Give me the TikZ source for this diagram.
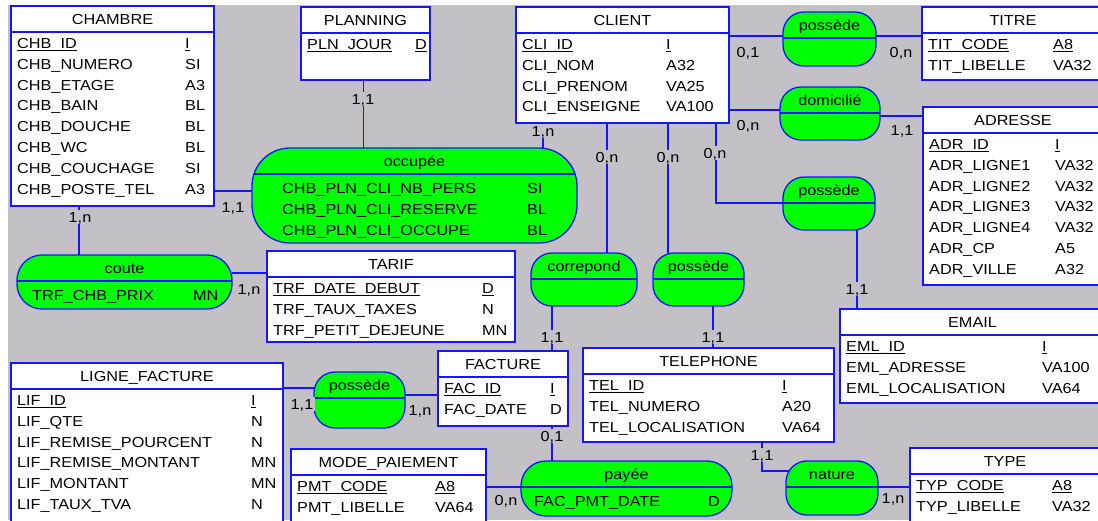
\documentclass[tikz,border=0pt]{standalone}
\usepackage{fontspec}
\setmainfont{Liberation Sans}[FakeStretch=1.12]
\usetikzlibrary{calc, fit}

\definecolor{fond}{RGB}{195,193,197}
\definecolor{bleu}{RGB}{20,20,255}
\definecolor{vert}{RGB}{0,255,0}

\newcommand{\mcd}{\fontsize{14.5pt}{17pt}\selectfont}
\newcommand{\idf}[1]{\setbox0=\hbox{#1}\rlap{\rule[-2.4pt]{\wd0}{0.9pt}}\box0}

\tikzstyle{lien} = [draw=bleu, line width=1.3pt]
\tikzstyle{entity} = [
    rectangle,
    draw=bleu,
    line width=1.3pt,
    fill=white,
    inner sep=0pt,
    outer sep=0pt
]
\tikzstyle{relation} = [
    rectangle,
    draw=bleu,
    line width=1.3pt,
    fill=vert,
    inner sep=0pt,
    outer sep=0pt
]
\tikzstyle{txt} = [anchor=west, inner sep=0pt, text height=10.4pt, text depth=0pt, font=\mcd]
\tikzstyle{titre} = [anchor=center, inner sep=0pt, text height=10.4pt, text depth=0pt, font=\mcd]
\tikzstyle{card} = [fill=fond, inner sep=1.5pt, text height=10.4pt, text depth=0pt, font=\mcd]

% rows of attributes: node, first row offset, name dx, type dx, list
\newcommand{\lignes}[5]{%
  \foreach \nom/\typ [count=\i from 0] in {#5} {
    \node[txt] (#1-n\i) at ($(#1.north west)+(#3,{#2+\i*20.9})$) {\nom};
    \node[txt] (#1-t\i) at ($(#1.north west)+(#4,{#2+\i*20.9})$) {\typ};
  }
}
% entity: name, corner, corner, title, type dx, list
\newcommand{\entite}[6]{%
  \node[entity, fit={(#2) (#3)}] (#1) {};
  \draw[lien] ($(#1.north west)+(0,26)$) -- ($(#1.north east)+(0,26)$);
  \node[titre] (#1-titre) at ($(#1.north)+(0,13)$) {#4};
  \lignes{#1}{37}{6}{#5}{#6}
}
% association: [radius] name, corner, corner, title
\newcommand{\assoc}[5][21pt]{%
  \node[relation, rounded corners=#1, fit={(#3) (#4)}] (#2) {};
  \begin{scope}
    \clip[rounded corners=#1] (#3) rectangle (#4);
    \draw[lien] ($(#2.north west)+(0,26)$) -- ($(#2.north east)+(0,26)$);
  \end{scope}
  \node[titre] (#2-titre) at ($(#2.north)+(0,13.5)$) {#5};
}

\begin{document}
\begin{tikzpicture}[x=1pt, y=-1pt]
\useasboundingbox (0,0) rectangle (1098,520);
\clip (0,0) rectangle (1098,520);
\fill[white] (0,0) rectangle (1098,520);
\fill[fond] (8,5) rectangle (1098,520);

% entites
\entite{chambre}{11,6}{214,206}{CHAMBRE}{174}{\idf{CHB\_ID}/\idf{I}, CHB\_NUMERO/SI,
  CHB\_ETAGE/A3, CHB\_BAIN/BL, CHB\_DOUCHE/BL, CHB\_WC/BL, CHB\_COUCHAGE/SI, CHB\_POSTE\_TEL/A3}
\entite{planning}{301,7}{430,80}{PLANNING}{114}{\idf{PLN\_JOUR}/\idf{D}}
\entite{client}{516,7}{729,123}{CLIENT}{150}{\idf{CLI\_ID}/\idf{I}, CLI\_NOM/A32,
  CLI\_PRENOM/VA25, CLI\_ENSEIGNE/VA100}
\entite{titre}{922,7}{1104,80}{TITRE}{131}{\idf{TIT\_CODE}/\idf{A8}, TIT\_LIBELLE/VA32}
\entite{adresse}{923,107}{1103,285}{ADRESSE}{132}{\idf{ADR\_ID}/\idf{I}, ADR\_LIGNE1/VA32,
  ADR\_LIGNE2/VA32, ADR\_LIGNE3/VA32, ADR\_LIGNE4/VA32, ADR\_CP/A5, ADR\_VILLE/A32}
\entite{tarif}{267,251}{515,342}{TARIF}{215}{\idf{TRF\_DATE\_DEBUT}/\idf{D},
  TRF\_TAUX\_TAXES/N, TRF\_PETIT\_DEJEUNE/MN}
\entite{email}{840,309}{1105,403}{EMAIL}{202}{\idf{EML\_ID}/\idf{I}, EML\_ADRESSE/VA100,
  EML\_LOCALISATION/VA64}
\entite{facture}{438,351}{568,426}{FACTURE}{112}{\idf{FAC\_ID}/\idf{I}, FAC\_DATE/D}
\entite{telephone}{583,348}{834,442}{TELEPHONE}{199}{\idf{TEL\_ID}/\idf{I}, TEL\_NUMERO/A20,
  TEL\_LOCALISATION/VA64}
\entite{ligne}{11,363}{283,530}{LIGNE\_FACTURE}{240}{\idf{LIF\_ID}/\idf{I}, LIF\_QTE/N,
  LIF\_REMISE\_POURCENT/N, LIF\_REMISE\_MONTANT/MN, LIF\_MONTANT/MN, LIF\_TAUX\_TVA/N}
\entite{paiement}{291,449}{486,530}{MODE\_PAIEMENT}{144}{\idf{PMT\_CODE}/\idf{A8}, PMT\_LIBELLE/VA64}
\entite{type}{910,448}{1100,530}{TYPE}{142}{\idf{TYP\_CODE}/\idf{A8}, TYP\_LIBELLE/VA32}

% associations
\assoc[38pt]{occupe}{252,148}{577,243}{occupée}
\lignes{occupe}{40}{30}{275}{CHB\_PLN\_CLI\_NB\_PERS/SI, CHB\_PLN\_CLI\_RESERVE/BL,
  CHB\_PLN\_CLI\_OCCUPE/BL}
\assoc[25pt]{coute}{17,255}{232,309}{coute}
\lignes{coute}{40}{15}{176}{TRF\_CHB\_PRIX/MN}
\assoc{possedeTitre}{783,12}{876,66}{possède}
\assoc{domicilie}{780,87}{880,140}{domicilié}
\assoc{possedeEmail}{783,177}{875,230}{possède}
\assoc{correspond}{531,253}{637,306}{correpond}
\assoc{possedeTel}{653,253}{744,306}{possède}
\assoc{possedeFac}{314,372}{405,428}{possède}
\assoc[25pt]{payee}{521,461}{732,516}{payée}
\lignes{payee}{40}{13}{187}{FAC\_PMT\_DATE/D}
\assoc{nature}{786,461}{878,515}{nature}

% liens
\draw[lien] ($(chambre.south east)+(0,-15)$) -- ($(chambre.south east -| occupe.west)+(0,-15)$);
\draw[lien] ($(planning.south)+(-2,0)$) -- ($(planning.south |- occupe.north)+(-2,0)$);
\draw[lien] ($(client.south west)+(27,0)$) -- ($(client.south west |- occupe.north)+(27,0)$);
\draw[lien] ($(chambre.south west)+(68,0)$) -- ($(chambre.south west |- coute.north)+(68,0)$);
\draw[lien] ($(coute.north east)+(0,18)$) -- ($(coute.north east -| tarif.west)+(0,18)$);
\draw[lien] ($(client.north east)+(0,29)$) -- ($(client.north east -| possedeTitre.west)+(0,29)$);
\draw[lien] ($(possedeTitre.north east)+(0,24)$) -- ($(possedeTitre.north east -| titre.west)+(0,24)$);
\draw[lien] ($(client.north east)+(0,103)$) -- ($(client.north east -| domicilie.west)+(0,103)$);
\draw[lien] ($(domicilie.north east)+(0,29)$) -- ($(domicilie.north east -| adresse.west)+(0,29)$);
\draw[lien] ($(client.south east)+(-13,0)$) |- ($(possedeEmail.north west)+(0,26)$);
\draw[lien] ($(possedeEmail.south west)+(74,0)$) -- ($(possedeEmail.south west |- email.north)+(74,0)$);
\draw[lien] ($(correspond.north west)+(76,0)$) -- ($(correspond.north west |- client.south)+(76,0)$);
\draw[lien] ($(correspond.south west)+(21,0)$) -- ($(correspond.south west |- facture.north)+(21,0)$);
\draw[lien] ($(possedeTel.north west)+(15,0)$) -- ($(possedeTel.north west |- client.south)+(15,0)$);
\draw[lien] ($(possedeTel.south west)+(60,0)$) -- ($(possedeTel.south west |- telephone.north)+(60,0)$);
\draw[lien] ($(possedeFac.north west)+(0,16)$) -- ($(possedeFac.north west -| ligne.east)+(0,16)$);
\draw[lien] ($(possedeFac.north east)+(0,23)$) -- ($(possedeFac.north east -| facture.west)+(0,23)$);
\draw[lien] ($(facture.south west)+(114,0)$) -- ($(facture.south west |- payee.north)+(114,0)$);
\draw[lien] ($(payee.north west)+(0,26)$) -- ($(payee.north west -| paiement.east)+(0,26)$);
\draw[lien] ($(telephone.south east)+(-72,0)$) |- ($(nature.north west)+(3,10)$);
\draw[lien] ($(nature.north east)+(0,26)$) -- ($(nature.north east -| type.west)+(0,26)$);

% cardinalites
\node[card] (k1) at (233,207) {1,1};
\node[card] (k2) at (363,99) {1,1};
\node[card] (k3) at (543,131) {1,n};
\node[card] (k4) at (80,217) {1,n};
\node[card] (k5) at (249,289) {1,n};
\node[card] (k6) at (748,52) {0,1};
\node[card] (k7) at (901,52) {0,n};
\node[card] (k8) at (748,125) {0,n};
\node[card] (k9) at (902,130) {1,1};
\node[card] (k10) at (715,153) {0,n};
\node[card] (k11) at (857,289) {1,1};
\node[card] (k12) at (607,157) {0,n};
\node[card] (k13) at (552,337) {1,1};
\node[card] (k14) at (668,157) {0,n};
\node[card] (k15) at (713,337) {1,1};
\node[card] (k16) at (302,404) {1,1};
\node[card] (k17) at (420,410) {1,n};
\node[card] (k18) at (552,436) {0,1};
\node[card] (k19) at (506,500) {0,n};
\node[card] (k20) at (762,455) {1,1};
\node[card] (k21) at (893,498) {1,n};

\end{tikzpicture}
\end{document}
